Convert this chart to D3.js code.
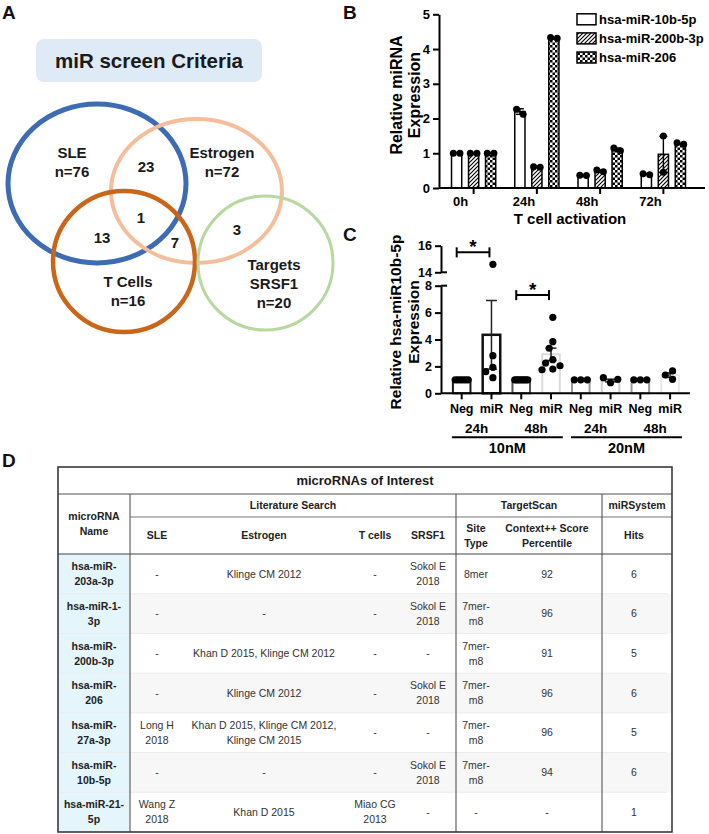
<!DOCTYPE html>
<html>
<head>
<meta charset="utf-8">
<script src="https://cdn.jsdelivr.net/npm/d3@7/dist/d3.min.js"></script>
<style>
  html,body{margin:0;padding:0;background:#fff;}
  svg{display:block;}
  text{font-family:"Liberation Sans",Arial,Helvetica,sans-serif;}
</style>
</head>
<body>
<svg id="fig" width="709" height="834"></svg>
<script>
// ================= DATA =================
// Panel A (Venn)
const vennTitle = "miR screen Criteria";
const vennSetNames = ["SLE", "Estrogen", "T Cells", "Targets\nSRSF1"];
const vennSetSizes = [76, 72, 16, 20];
const vennRegionCounts = [23, 1, 13, 7, 3]; // SLE∩Estr, SLE∩Estr∩T, SLE∩T, Estr∩T, Estr∩Targets

// Panel B
const bTimepoints = ["0h", "24h", "48h", "72h"];
const bSeries = ["hsa-miR-10b-5p", "hsa-miR-200b-3p", "hsa-miR-206"];
const b10bMean = [1.00, 2.20, 0.36, 0.40];
const b200bMean = [1.00, 0.60, 0.49, 0.97];
const b206Mean = [1.00, 4.32, 1.11, 1.28];
const b10bErr = [0.00, 0.08, 0.01, 0.02];
const b200bErr = [0.00, 0.01, 0.03, 0.52];
const b206Err = [0.00, 0.01, 0.04, 0.02];
const b10bPts = [[1.0, 1.0], [2.12, 2.27], [0.36, 0.37], [0.38, 0.41]];
const b200bPts = [[1.0, 1.0], [0.60, 0.61], [0.47, 0.52], [1.50, 0.45]];
const b206Pts = [[1.0, 1.0], [4.31, 4.33], [1.07, 1.15], [1.26, 1.30]];
const bYTicks = [0, 1, 2, 3, 4, 5];
const bXTitle = "T cell activation";
const bYTitle = ["Relative miRNA", "Expression"];

// Panel C
const cCats = ["Neg", "miR", "Neg", "miR", "Neg", "miR", "Neg", "miR"];
const cTimes = ["24h", "48h", "24h", "48h"];
const cConcs = ["10nM", "20nM"];
const cMean = [1.00, 4.35, 1.00, 2.90, 1.00, 0.95, 1.00, 1.35];
const cErr = [0, 2.55, 0, 0.46, 0, 0.10, 0, 0.17];
const cPts = [
  [1, 1, 1, 1, 1, 1],
  [14.6, 2.8, 1.93, 1.61, 1.16],
  [1, 1, 1, 1, 1, 1, 1, 1],
  [5.65, 3.84, 3.35, 2.5, 2.25, 2.05, 1.8, 1.75],
  [1, 1, 1],
  [0.79, 1.16, 1.04],
  [1, 1, 1],
  [1.66, 1.04, 1.36]
];
const cLowTicks = [0, 2, 4, 6, 8];
const cHighTicks = [14, 16];
const cSigPairs = [[0, 1], [2, 3]];
const cSigLevels = [15.5, 7.3];
const cSigLabel = "*";
const cYTitle = ["Relative hsa-miR10b-5p", "Expression"];

// Panel D (table)
const tblTitle = "microRNAs of Interest";
const tblGroups = ["Literature Search", "TargetScan", "miRSystem"];
const tblHeaders = ["SLE", "Estrogen", "T cells", "SRSF1", "Site\nType", "Context++ Score\nPercentile", "Hits"];
const tblNameHeader = "microRNA\nName";
const tblMiRNA = ["hsa-miR-\n203a-3p", "hsa-miR-1-\n3p", "hsa-miR-\n200b-3p", "hsa-miR-\n206", "hsa-miR-\n27a-3p", "hsa-miR-\n10b-5p", "hsa-miR-21-\n5p"];
const tblSLE = ["-", "-", "-", "-", "Long H\n2018", "-", "Wang Z\n2018"];
const tblEstrogen = ["Klinge CM 2012", "-", "Khan D 2015, Klinge CM 2012", "Klinge CM 2012", "Khan D 2015, Klinge CM 2012,\nKlinge CM 2015", "-", "Khan D 2015"];
const tblTcells = ["-", "-", "-", "-", "-", "-", "Miao CG\n2013"];
const tblSRSF1 = ["Sokol E\n2018", "Sokol E\n2018", "-", "Sokol E\n2018", "-", "Sokol E\n2018", "-"];
const tblSiteType = ["8mer", "7mer-\nm8", "7mer-\nm8", "7mer-\nm8", "7mer-\nm8", "7mer-\nm8", "-"];
const tblContext = ["92", "96", "91", "96", "96", "94", "-"];
const tblHits = ["6", "6", "5", "6", "5", "6", "1"];

// ================= HELPERS =================
const svg = d3.select("#fig");
svg.append("rect").attr("width", 709).attr("height", 834).attr("fill", "#fff");

function multiText(g, x, yc, str, o) {
  const lines = String(str).split("\n");
  const size = o.size, lh = o.lh || size * 1.42;
  const t = g.append("text").attr("text-anchor", o.anchor || "middle")
    .attr("font-size", size).attr("font-weight", o.weight || "normal")
    .attr("fill", o.fill || "#000");
  const y0 = yc - (lines.length - 1) * lh / 2 + size * 0.355;
  lines.forEach((l, i) => t.append("tspan").attr("x", x).attr("y", y0 + i * lh).text(l));
  return t;
}

function swarm(vals, yf, minD, step) {
  const placed = [];
  vals.forEach(v => {
    const y = yf(v);
    let k = 0, off = 0;
    while (k < 60) {
      off = k === 0 ? 0 : (k % 2 ? -1 : 1) * Math.ceil(k / 2) * step;
      if (placed.every(p => Math.hypot(p.x - off, p.y - y) >= minD - 1e-6)) break;
      k++;
    }
    placed.push({ x: off, y: y, v: v });
  });
  const m = d3.mean(placed, p => p.x);
  placed.forEach(p => p.x -= m);
  return placed;
}

// panel letters
[["A", 2, 19], ["B", 343, 19], ["C", 343, 241], ["D", 2, 467]].forEach(d => {
  svg.append("text").attr("x", d[1]).attr("y", d[2]).attr("font-size", 19)
    .attr("font-weight", "bold").attr("fill", "#111").text(d[0]);
});

// ================= PANEL A =================
const gA = svg.append("g");
gA.append("rect").attr("x", 36).attr("y", 39).attr("width", 226).attr("height", 43)
  .attr("rx", 8).attr("fill", "#deebf7");
multiText(gA, 149, 61, vennTitle, { size: 20.5, weight: "bold", fill: "#1a1a1a" });

const vennShapes = [
  { cx: 97, cy: 183.5, rx: 89, ry: 79.5, stroke: "#3d6cb3", w: 5 },
  { cx: 196.5, cy: 191, rx: 85.5, ry: 72, stroke: "#f6bd9b", w: 4 },
  { cx: 124, cy: 261.5, rx: 71, ry: 70.5, stroke: "#c9661a", w: 4.5 },
  { cx: 265.5, cy: 263, rx: 67.5, ry: 67, stroke: "#b7d89f", w: 3 }
];
gA.selectAll("ellipse.venn").data(vennShapes).join("ellipse")
  .attr("cx", d => d.cx).attr("cy", d => d.cy).attr("rx", d => d.rx).attr("ry", d => d.ry)
  .attr("fill", "none").attr("stroke", d => d.stroke).attr("stroke-width", d => d.w);

const vennLabelPos = [[72, 162.5], [222, 162.5], [128, 291], [274, 283.5]];
vennSetNames.forEach((n, i) => {
  multiText(gA, vennLabelPos[i][0], vennLabelPos[i][1], n + "\nn=" + vennSetSizes[i],
    { size: 15, weight: "bold", fill: "#1a1a1a", lh: 18.7 });
});
const vennRegionPos = [[146, 167], [141, 218], [102, 238], [175, 243], [237, 230]];
vennRegionCounts.forEach((c, i) => {
  multiText(gA, vennRegionPos[i][0], vennRegionPos[i][1], String(c),
    { size: 15, weight: "bold", fill: "#1a1a1a" });
});

// ================= PANEL B =================
const gB = svg.append("g");
const defs = svg.append("defs");
const hatch = defs.append("pattern").attr("id", "hatch").attr("patternUnits", "userSpaceOnUse")
  .attr("width", 4).attr("height", 4);
hatch.append("rect").attr("width", 4).attr("height", 4).attr("fill", "#fff");
hatch.append("path").attr("d", "M-1,1 l2,-2 M0,4 l4,-4 M3,5 l2,-2")
  .attr("stroke", "#000").attr("stroke-width", 1.1);
const check = defs.append("pattern").attr("id", "check").attr("patternUnits", "userSpaceOnUse")
  .attr("width", 5).attr("height", 5);
check.append("rect").attr("width", 5).attr("height", 5).attr("fill", "#fff");
check.append("rect").attr("width", 2.5).attr("height", 2.5).attr("fill", "#000");
check.append("rect").attr("x", 2.5).attr("y", 2.5).attr("width", 2.5).attr("height", 2.5).attr("fill", "#000");

const bFills = ["#fff", "url(#hatch)", "url(#check)"];
const bMeans = [b10bMean, b200bMean, b206Mean];
const bErrs = [b10bErr, b200bErr, b206Err];
const bPts = [b10bPts, b200bPts, b206Pts];

const bX = d3.scaleBand().domain(bTimepoints).range([442, 695]);
const bSub = d3.scaleBand().domain(bSeries).range([-22.1, 22.1]).paddingInner(0.4);
const bY = d3.scaleLinear().domain([0, 5]).range([188, 14.3]);
const bAxisX = 439;
const bCenter = t => bX(t) + bX.bandwidth() / 2;

bSeries.forEach((s, si) => {
  bTimepoints.forEach((t, ti) => {
    const cx = bCenter(t) + bSub(s) + bSub.bandwidth() / 2;
    const m = bMeans[si][ti];
    gB.append("rect").attr("x", cx - bSub.bandwidth() / 2).attr("y", bY(m))
      .attr("width", bSub.bandwidth()).attr("height", bY(0) - bY(m))
      .attr("fill", bFills[si]).attr("stroke", "#000").attr("stroke-width", 1.5);
    const e = bErrs[si][ti];
    if (e > 0.02) {
      gB.append("line").attr("x1", cx).attr("x2", cx).attr("y1", bY(m - e)).attr("y2", bY(m + e))
        .attr("stroke", "#000").attr("stroke-width", 1.4);
      [m - e, m + e].forEach(v => gB.append("line").attr("x1", cx - 4).attr("x2", cx + 4)
        .attr("y1", bY(v)).attr("y2", bY(v)).attr("stroke", "#000").attr("stroke-width", 1.4));
    }
    swarm(bPts[si][ti], bY, 6.6, 3.3).forEach(p => {
      gB.append("circle").attr("cx", cx + p.x).attr("cy", p.y).attr("r", 3.5).attr("fill", "#000");
    });
  });
});

// B axes
const bYAxis = gB.append("g").attr("transform", `translate(${bAxisX},0)`)
  .call(d3.axisLeft(bY).tickValues(bYTicks).tickFormat(d3.format("d")).tickSize(6).tickSizeOuter(0).tickPadding(3));
const bXAxis = gB.append("g").attr("transform", `translate(0,${bY(0)})`)
  .call(d3.axisBottom(bX).tickSize(6).tickSizeOuter(0).tickPadding(3));
bXAxis.select(".domain").remove();
bXAxis.append("line").attr("x1", bAxisX).attr("x2", 705).attr("y1", 0).attr("y2", 0)
  .attr("stroke", "#000").attr("stroke-width", 2);
bXAxis.selectAll(".tick text").attr("dx", -13);
[bYAxis, bXAxis].forEach(a => {
  a.selectAll("path,line").attr("stroke", "#000").attr("stroke-width", 2);
  a.selectAll("text").attr("font-size", 13).attr("font-weight", "bold").attr("fill", "#000")
    .attr("font-family", '"Liberation Sans",Arial,sans-serif');
});
gB.append("text").attr("x", 570).attr("y", 224).attr("text-anchor", "middle")
  .attr("font-size", 15).attr("font-weight", "bold").text(bXTitle);
bYTitle.forEach((l, i) => {
  gB.append("text").attr("transform", `translate(${402 + i * 18},95) rotate(-90)`)
    .attr("text-anchor", "middle").attr("font-size", 16).attr("font-weight", "bold").text(l);
});

// B legend
bSeries.forEach((s, i) => {
  const yc = 19.3 + i * 19.1;
  gB.append("rect").attr("x", 577).attr("y", yc - 5.5).attr("width", 19).attr("height", 11)
    .attr("fill", bFills[i]).attr("stroke", "#000").attr("stroke-width", 1.5);
  gB.append("text").attr("x", 599).attr("y", yc + 4.6).attr("font-size", 13)
    .attr("font-weight", "bold").text(s);
});

// ================= PANEL C =================
const gC = svg.append("g");
const cPad = 0.41;
const cX = d3.scaleBand().domain(d3.range(cCats.length)).range([446.8, 685])
  .paddingInner(cPad).paddingOuter(cPad / 2);
const cYlow = d3.scaleLinear().domain([0, 8]).range([393.3, 285.7]);
const cYhigh = d3.scaleLinear().domain([14, 16]).range([272.3, 245.7]);
const cY = v => v > 11 ? cYhigh(v) : cYlow(v);
const cAxisX = 441;
const cC = i => cX(i) + cX.bandwidth() / 2;
const cStroke = ["#1a1a1a", "#111", "#555", "#dadada", "#999", "#cdcdcd", "#999", "#e8e8e8"];
const cStrokeW = [2, 2.5, 2, 2, 2, 2, 2, 2];

cMean.forEach((m, i) => {
  gC.append("rect").attr("x", cX(i)).attr("y", cY(m)).attr("width", cX.bandwidth())
    .attr("height", cY(0) - cY(m)).attr("fill", "#fff")
    .attr("stroke", cStroke[i]).attr("stroke-width", cStrokeW[i]);
});
cMean.forEach((m, i) => {
  const e = cErr[i];
  if (e > 0) {
    const cx = cC(i);
    gC.append("line").attr("x1", cx).attr("x2", cx).attr("y1", cY(m - e)).attr("y2", cY(m + e))
      .attr("stroke", "#222").attr("stroke-width", 1.5);
    [m - e, m + e].forEach(v => gC.append("line").attr("x1", cx - 5.5).attr("x2", cx + 5.5)
      .attr("y1", cY(v)).attr("y2", cY(v)).attr("stroke", "#222").attr("stroke-width", 1.5));
  }
});
cPts.forEach((pts, i) => {
  const same = pts.every(v => v === pts[0]);
  const st = same ? Math.min(7.2, 13 / (pts.length - 1)) : 3.6;
  const md = same ? st : 7.2;
  swarm(pts, cY, md, st).forEach(p => {
    gC.append("circle").attr("cx", cC(i) + p.x).attr("cy", p.y).attr("r", 3.6).attr("fill", "#000");
  });
});

// C axes
const cAxLow = gC.append("g").attr("transform", `translate(${cAxisX},0)`)
  .call(d3.axisLeft(cYlow).tickValues(cLowTicks).tickFormat(d3.format("d")).tickSize(6).tickSizeOuter(0).tickPadding(3));
const cAxHigh = gC.append("g").attr("transform", `translate(${cAxisX},0)`)
  .call(d3.axisLeft(cYhigh).tickValues(cHighTicks).tickFormat(d3.format("d")).tickSize(6).tickSizeOuter(0).tickPadding(3));
[cYlow(8), cYhigh(14)].forEach(y => {
  gC.append("line").attr("x1", cAxisX).attr("x2", cAxisX + 6).attr("y1", y).attr("y2", y)
    .attr("stroke", "#000").attr("stroke-width", 2);
});
const cAxX = gC.append("g").attr("transform", `translate(0,${cY(0)})`)
  .call(d3.axisBottom(cX).tickSize(6).tickSizeOuter(0).tickFormat(i => cCats[i]).tickPadding(5));
cAxX.select(".domain").remove();
cAxX.append("line").attr("x1", cAxisX).attr("x2", 690).attr("y1", 0).attr("y2", 0)
  .attr("stroke", "#000").attr("stroke-width", 2);
[cAxLow, cAxHigh, cAxX].forEach(a => {
  a.selectAll("path,line").attr("stroke", "#000").attr("stroke-width", 2);
  a.selectAll("text").attr("font-size", 12.5).attr("font-weight", "bold").attr("fill", "#000")
    .attr("font-family", '"Liberation Sans",Arial,sans-serif');
});
cTimes.forEach((t, j) => {
  const xc = (cC(2 * j) + cC(2 * j + 1)) / 2;
  gC.append("text").attr("x", xc).attr("y", 433).attr("text-anchor", "middle")
    .attr("font-size", 13.5).attr("font-weight", "bold").text(t);
});
cConcs.forEach((c, k) => {
  const x1 = cX(4 * k), x2 = cX(4 * k + 3) + cX.bandwidth();
  gC.append("line").attr("x1", x1 - 1).attr("x2", x2 + 3).attr("y1", 437.3).attr("y2", 437.3)
    .attr("stroke", "#000").attr("stroke-width", 2);
  gC.append("text").attr("x", (x1 + x2) / 2 + 1).attr("y", 453).attr("text-anchor", "middle")
    .attr("font-size", 14.5).attr("font-weight", "bold").text(c);
});
cSigPairs.forEach((p, k) => {
  const y = cY(cSigLevels[k]);
  const x1 = cC(p[0]) - 5, x2 = cC(p[1]) - 2;
  gC.append("line").attr("x1", x1).attr("x2", x2).attr("y1", y).attr("y2", y)
    .attr("stroke", "#000").attr("stroke-width", 2);
  [x1, x2].forEach(x => gC.append("line").attr("x1", x).attr("x2", x).attr("y1", y - 5).attr("y2", y + 5)
    .attr("stroke", "#000").attr("stroke-width", 2));
  gC.append("text").attr("x", (x1 + x2) / 2).attr("y", y + 1).attr("text-anchor", "middle")
    .attr("font-size", 19).attr("font-weight", "bold").text(cSigLabel);
});
cYTitle.forEach((l, i) => {
  gC.append("text").attr("transform", `translate(${401 + i * 18},322) rotate(-90)`)
    .attr("text-anchor", "middle").attr("font-size", 15.5).attr("font-weight", "bold").text(l);
});

// ================= PANEL D (table) =================
const gD = svg.append("g");
const T = { x0: 58, x1: 672, y0: 467, yTitle: 494, yGroup: 517, yHead: 554, y1: 832, xName: 130 };
const colX = [157, 264, 375, 428, 476, 547, 634];
const groupEdges = [T.xName, 456, 602, T.x1];
const rowY = d3.scaleBand().domain(d3.range(tblMiRNA.length)).range([T.yHead, T.y1]);
const cols = [tblSLE, tblEstrogen, tblTcells, tblSRSF1, tblSiteType, tblContext, tblHits];

gD.append("rect").attr("x", T.x0).attr("y", T.y0).attr("width", T.x1 - T.x0).attr("height", T.y1 - T.y0)
  .attr("fill", "#fff");
tblMiRNA.forEach((n, i) => {
  gD.append("rect").attr("x", T.xName).attr("y", rowY(i)).attr("width", T.x1 - T.xName)
    .attr("height", rowY.bandwidth()).attr("fill", i % 2 ? "#f7f7f7" : "#fff");
  gD.append("rect").attr("x", T.x0).attr("y", rowY(i)).attr("width", T.xName - T.x0)
    .attr("height", rowY.bandwidth()).attr("fill", "#e4f6fb");
  if (i > 0) gD.append("line").attr("x1", T.x0).attr("x2", T.x1 - 5).attr("y1", rowY(i)).attr("y2", rowY(i))
    .attr("stroke", "#ebebeb").attr("stroke-width", 1);
  const yc = rowY(i) + rowY.bandwidth() / 2;
  multiText(gD, 94, yc, n, { size: 10.5, weight: "bold", fill: "#222", lh: 15 });
  cols.forEach((col, c) => {
    multiText(gD, colX[c], yc, col[i], { size: 10.5, fill: "#333", lh: 15 });
  });
});
// header lines
gD.append("line").attr("x1", T.x0).attr("x2", T.x1).attr("y1", T.yTitle).attr("y2", T.yTitle)
  .attr("stroke", "#555").attr("stroke-width", 1.1);
gD.append("line").attr("x1", T.xName).attr("x2", T.x1).attr("y1", T.yGroup).attr("y2", T.yGroup)
  .attr("stroke", "#777").attr("stroke-width", 1);
gD.append("line").attr("x1", T.x0).attr("x2", T.x1).attr("y1", T.yHead).attr("y2", T.yHead)
  .attr("stroke", "#444").attr("stroke-width", 1.2);
groupEdges.slice(0, 3).forEach(x => {
  gD.append("line").attr("x1", x).attr("x2", x).attr("y1", T.yTitle).attr("y2", T.y1)
    .attr("stroke", "#555").attr("stroke-width", 1.1);
});
gD.append("rect").attr("x", T.x0).attr("y", T.y0).attr("width", T.x1 - T.x0).attr("height", T.y1 - T.y0)
  .attr("fill", "none").attr("stroke", "#3a3a3a").attr("stroke-width", 1.6);

multiText(gD, (T.x0 + T.x1) / 2, (T.y0 + T.yTitle) / 2, tblTitle, { size: 13, weight: "bold", fill: "#1a1a1a" });
tblGroups.forEach((g, k) => {
  multiText(gD, (groupEdges[k] + groupEdges[k + 1]) / 2, (T.yTitle + T.yGroup) / 2, g,
    { size: 10.5, weight: "bold", fill: "#222" });
});
multiText(gD, 94, (T.yTitle + T.yHead) / 2, tblNameHeader, { size: 10.5, weight: "bold", fill: "#222", lh: 15 });
tblHeaders.forEach((h, c) => {
  multiText(gD, colX[c], (T.yGroup + T.yHead) / 2, h, { size: 10.5, weight: "bold", fill: "#222", lh: 15 });
});
</script>
</body>
</html>
